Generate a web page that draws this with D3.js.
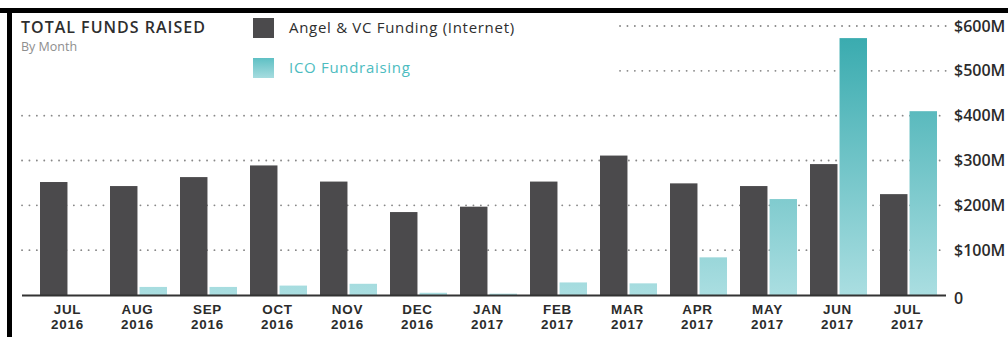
<!DOCTYPE html>
<html>
<head>
<meta charset="utf-8">
<script src="https://cdn.jsdelivr.net/npm/d3@7"></script>
<style>
  html, body { margin: 0; padding: 0; background: #fff; }
  svg { display: block; font-family: "Open Sans", "Noto Sans", sans-serif; }
</style>
</head>
<body>
<svg id="chart" width="1008" height="337"></svg>
<script>
// Monthly totals, in millions of US dollars
const months = ["JUL", "AUG", "SEP", "OCT", "NOV", "DEC", "JAN", "FEB", "MAR", "APR", "MAY", "JUN", "JUL"];
const years  = ["2016", "2016", "2016", "2016", "2016", "2016", "2017", "2017", "2017", "2017", "2017", "2017", "2017"];
const angelVC = [252, 243, 263, 289, 253, 185, 197, 253, 311, 249, 243, 292, 225];
const ico     = [0, 18, 18, 21, 25, 5, 3, 28, 26, 84, 214, 573, 410];
const yTicks  = [0, 100, 200, 300, 400, 500, 600];
const seriesNames = ["Angel & VC Funding (Internet)", "ICO Fundraising"];

const keys = months.map((m, i) => m + " " + years[i]);
const rows = keys.map((k, i) => ({ key: k, month: months[i], year: years[i], vc: angelVC[i], ico: ico[i] }));

const svg = d3.select("#chart");

const x = d3.scaleBand().domain(keys).range([33, 944]).paddingInner(13 / 70).paddingOuter(0.1);
const xIn = d3.scaleBand().domain(["vc", "ico"]).range([0, x.bandwidth()]).paddingInner(0.07);
const y = d3.scaleLinear().domain([0, 600]).range([295, 26]);

// gradient for the ICO bars, tied to the chart height
const defs = svg.append("defs");
const g1 = defs.append("linearGradient").attr("id", "icoGrad")
  .attr("gradientUnits", "userSpaceOnUse")
  .attr("x1", 0).attr("x2", 0).attr("y1", y(0)).attr("y2", y(600));
g1.append("stop").attr("offset", "0%").attr("stop-color", "#aadee1");
g1.append("stop").attr("offset", "100%").attr("stop-color", "#35a9ad");
const g2 = defs.append("linearGradient").attr("id", "icoLegend")
  .attr("x1", 0).attr("x2", 0).attr("y1", 1).attr("y2", 0);
g2.append("stop").attr("offset", "0%").attr("stop-color", "#a6dcdf");
g2.append("stop").attr("offset", "100%").attr("stop-color", "#5fc0c4");

// frame edges
svg.append("rect").attr("x", 0).attr("y", 8).attr("width", 1008).attr("height", 5).attr("fill", "#000");
svg.append("rect").attr("x", 7).attr("y", 8).attr("width", 5).attr("height", 329).attr("fill", "#000");

// dotted gridlines
svg.append("g").selectAll("line")
  .data(yTicks.filter(t => t > 0))
  .join("line")
  .attr("x1", d => d >= 500 ? 620 : 22)
  .attr("x2", 946)
  .attr("y1", d => y(d)).attr("y2", d => y(d))
  .attr("stroke", "#888")
  .attr("stroke-width", 1.8)
  .attr("stroke-linecap", "round")
  .attr("stroke-dasharray", "0.1,7.3");

// bars
const groups = svg.append("g").selectAll("g")
  .data(rows).join("g")
  .attr("transform", d => `translate(${x(d.key)},0)`);

groups.append("rect")
  .attr("x", xIn("vc")).attr("width", xIn.bandwidth())
  .attr("y", d => y(d.vc)).attr("height", d => y(0) - y(d.vc))
  .attr("fill", "#4b4a4c");

groups.filter(d => d.ico > 0).append("rect")
  .attr("x", xIn("ico")).attr("width", xIn.bandwidth())
  .attr("y", d => y(d.ico)).attr("height", d => y(0) - y(d.ico))
  .attr("fill", "url(#icoGrad)");

// baseline
svg.append("line")
  .attr("x1", 22).attr("x2", 946)
  .attr("y1", y(0) + 0.5).attr("y2", y(0) + 0.5)
  .attr("stroke", "#333").attr("stroke-width", 2);

// right value axis
const yAxis = svg.append("g")
  .attr("transform", "translate(946,0)")
  .call(d3.axisRight(y).tickValues(yTicks).tickSize(0).tickPadding(8)
    .tickFormat(d => d === 0 ? "0" : `$${d}M`));
yAxis.select(".domain").remove();
yAxis.selectAll("text")
  .attr("fill", "#2b2b2b")
  .attr("font-size", 16)
  .attr("font-weight", 600)
  .attr("font-family", "'Open Sans', sans-serif");
yAxis.selectAll(".tick").filter(d => d === 0).select("text").attr("dy", "0.55em");

// month axis: two-line label (month over year) per tick
const xAxis = svg.append("g")
  .attr("transform", `translate(0,${y(0)})`)
  .call(d3.axisBottom(x).tickSize(0));
xAxis.select(".domain").remove();
xAxis.selectAll(".tick text").remove();
const labelStyle = sel => sel
  .attr("fill", "#2b2b2b")
  .attr("font-size", 13.4)
  .attr("font-weight", 700)
  .attr("letter-spacing", 0.8)
  .attr("text-anchor", "middle")
  .attr("font-family", "'Liberation Sans', Arial, sans-serif");
xAxis.selectAll(".tick").each(function(d, i) {
  const tk = d3.select(this);
  tk.append("text").call(labelStyle).attr("x", -1).attr("y", 19).text(rows[i].month);
  tk.append("text").call(labelStyle).attr("x", -1).attr("y", 34.2).text(rows[i].year);
});

// title
svg.append("text")
  .attr("x", 21).attr("y", 33)
  .attr("font-size", 16).attr("font-weight", 600)
  .attr("letter-spacing", 1.0)
  .attr("fill", "#2e2e2e")
  .text("TOTAL FUNDS RAISED");
svg.append("text")
  .attr("x", 21).attr("y", 51)
  .attr("font-size", 12.5)
  .attr("fill", "#8e8e8e")
  .text("By Month");

// legend
const legend = svg.append("g");
const legendRows = [
  { name: seriesNames[0], fill: "#4b4a4c", text: "#2e2e2e", y: 18 },
  { name: seriesNames[1], fill: "url(#icoLegend)", text: "#4cbcc0", y: 58 }
];
legendRows.forEach(r => {
  legend.append("rect").attr("x", 253).attr("y", r.y).attr("width", 21).attr("height", 20).attr("fill", r.fill);
  legend.append("text").attr("x", 289).attr("y", r.y + 15)
    .attr("font-size", 15).attr("font-weight", 500)
    .attr("letter-spacing", 0.7)
    .attr("fill", r.text).text(r.name);
});
</script>
</body>
</html>
